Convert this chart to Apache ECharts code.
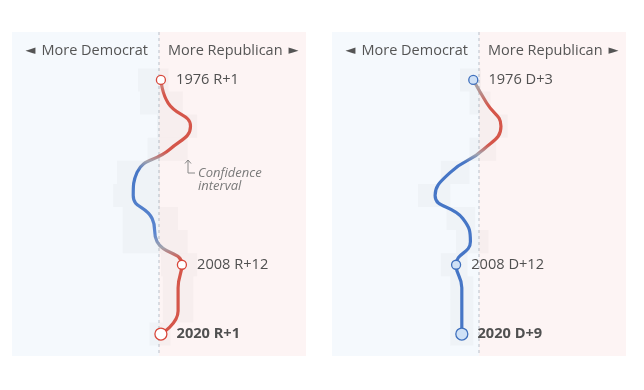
<!DOCTYPE html>
<html>
<head>
<meta charset="utf-8">
<script src="https://cdn.jsdelivr.net/npm/echarts@6/dist/echarts.min.js"></script>
<style>html,body{margin:0;padding:0;background:#fff}#c{width:644px;height:390px}</style>
</head>
<body>
<div id="c"></div>
<script>
// ---- data ----
const years = [1976, 1980, 1984, 1988, 1992, 1996, 2000, 2004, 2008, 2012, 2016, 2020];
const leftValues  = [1, 4.8, 16.5, 5.7, -11.5, -13.5, -3.6, -1, 12, 10, 10, 1];
const rightValues = [-3, 4, 11.5, 2.5, -15, -23, -8.5, -4.5, -12, -9, -9, -9];
const leftCiLow   = [-11, -10, -1, -6, -22, -24, -19, -19, 1, 2, 2, -5];
const leftCiHigh  = [5, 12.5, 20, 15, 0.5, 0.5, 10, 15, 20, 18, 18, 6];
const rightCiLow  = [-10, -5, 0, -5, -20, -32, -17, -12, -20, -15, -15, -15];
const rightCiHigh = [1, 6, 15, 9, -5, -15, -2, 5, -6, -3, -3, -3];
const markedYears = [1976, 2008, 2020];
const sideLabels = ['\u25C4 More Democrat', 'More Republican \u25BA'];
const ciNote = ['Confidence', 'interval'];
const leftColorStops = [[1976, '#c9a09c'], [1979, '#d5564a'], [1988.6, '#d5564a'], [1990.2, '#a3a3ad'], [1991.8, '#4676c6'], [2002.5, '#5b86cf'], [2004.9, '#a3a3ad'], [2006.8, '#d5564a'], [2020, '#d5564a']];
const rightColorStops = [[1976, '#a6a6a8'], [1977.8, '#ae9c9c'], [1981, '#d5564a'], [1987.4, '#d5564a'], [1989, '#a3a3ad'], [1990.4, '#4676c6'], [2020, '#4676c6']];

const RED = '#d8473b', BLUE = '#3f70bd';
const FONT = '"Open Sans"';
const Y_MIN = 1967.7, Y_MAX = 2023.8, X_MIN = -77, X_MAX = 77;

const chart = echarts.init(document.getElementById('c'));

function panel(idx, values, ciLow, ciHigh, stops, dotStroke, dotFill) {
  const grad = new echarts.graphic.LinearGradient(0, 0, 0, 1,
    stops.map(s => ({ offset: (s[0] - years[0]) / (years[years.length - 1] - years[0]), color: s[1] })));
  const ci = years.map((y, i) => [y, ciLow[i], ciHigh[i]]);
  const marks = markedYears.map(y => {
    const v = values[years.indexOf(y)];
    const last = y === years[years.length - 1];
    const txt = y + ' ' + (v >= 0 ? 'R' : 'D') + '+' + Math.round(Math.abs(v));
    return {
      value: [v, y, txt],
      symbolSize: last ? 12 : 9,
      label: { fontWeight: last ? 'bold' : 'normal', distance: last ? 9 : 10 }
    };
  });
  return [
    {
      type: 'line', xAxisIndex: idx, yAxisIndex: idx, z: 1, silent: true,
      data: [[0, Y_MIN], [0, Y_MAX]], symbol: 'none',
      lineStyle: { color: '#b9c0ca', width: 1, type: [3, 3] },
      markArea: {
        silent: true,
        data: [
          [{ xAxis: X_MIN, itemStyle: { color: '#f5f9fd' } }, { xAxis: 0 }],
          [{ xAxis: 0, itemStyle: { color: '#fdf4f4' } }, { xAxis: X_MAX }]
        ]
      }
    },
    {
      type: 'custom', xAxisIndex: idx, yAxisIndex: idx, z: 2, silent: true,
      data: ci, encode: { x: [1, 2], y: 0 },
      renderItem: function (params, api) {
        const p0 = api.coord([api.value(1), api.value(0) - 2]);
        const p1 = api.coord([api.value(2), api.value(0) + 2]);
        return { type: 'rect', shape: { x: p0[0], y: p0[1], width: p1[0] - p0[0], height: p1[1] - p0[1] },
          style: { fill: 'rgba(60,60,60,0.03)' } };
      }
    },
    {
      type: 'line', xAxisIndex: idx, yAxisIndex: idx, z: 3, silent: true,
      data: years.map((y, i) => [values[i], y]), symbol: 'none', smooth: 0.5,
      lineStyle: { width: 3.2, color: grad, cap: 'round' }
    },
    {
      type: 'scatter', xAxisIndex: idx, yAxisIndex: idx, z: 4, silent: true,
      data: marks, symbol: 'circle',
      itemStyle: { color: dotFill, borderColor: dotStroke, borderWidth: 1.3, opacity: 1 },
      label: { show: true, position: 'right', formatter: p => p.value[2], color: '#505050', fontSize: 14.6, fontFamily: FONT }
    }
  ];
}

const grids = [{ left: 12, top: 32, width: 294, height: 324 }, { left: 332, top: 32, width: 294, height: 324 }];

const triRich = {
  triL: { fontFamily: '"DejaVu Sans"', fontSize: 13, fill: '#555', padding: [0, 6, 1, 0] },
  triR: { fontFamily: '"DejaVu Sans"', fontSize: 13, fill: '#555', padding: [0, 0, 1, 6] },
  t: { fontFamily: FONT, fontSize: 14.5, fill: '#555' }
};
function richLabel(s) {
  const parts = s.split(' ');
  const isTri = w => /[\u25C4\u25BA]/.test(w);
  if (isTri(parts[0])) return '{triL|' + parts[0] + '}{t|' + parts.slice(1).join(' ') + '}';
  return '{t|' + parts.slice(0, -1).join(' ') + '}{triR|' + parts[parts.length - 1] + '}';
}
function headerTexts(cx) {
  return [
    { type: 'text', z: 100, x: cx - 11, y: 51, style: { text: richLabel(sideLabels[0]), rich: triRich, align: 'right', verticalAlign: 'middle', fill: '#555', font: '14.5px ' + FONT } },
    { type: 'text', z: 100, x: cx + 9, y: 51, style: { text: richLabel(sideLabels[1]), rich: triRich, align: 'left', verticalAlign: 'middle', fill: '#555', font: '14.5px ' + FONT } }
  ];
}

chart.setOption({
  animation: false,
  grid: grids,
  xAxis: [0, 1].map(i => ({ type: 'value', gridIndex: i, min: X_MIN, max: X_MAX, show: false })),
  yAxis: [0, 1].map(i => ({ type: 'value', gridIndex: i, min: Y_MIN, max: Y_MAX, inverse: true, show: false })),
  series: [].concat(
    panel(0, leftValues, leftCiLow, leftCiHigh, leftColorStops, RED, '#ffffff'),
    panel(1, rightValues, rightCiLow, rightCiHigh, rightColorStops, BLUE, '#cfe1f6')
  ),
  graphic: [].concat(
    headerTexts(159), headerTexts(479),
    [
      { type: 'polyline', z: 100, shape: { points: [[188, 160], [188, 173], [195, 173]] }, style: { stroke: '#888', lineWidth: 1, fill: null } },
      { type: 'polyline', z: 100, shape: { points: [[185, 163.5], [188, 160], [191, 163.5]] }, style: { stroke: '#888', lineWidth: 1, fill: null } },
      { type: 'text', z: 100, x: 198, y: 173, style: { text: ciNote[0], verticalAlign: 'middle', fill: '#7a7a7a', font: 'italic 13px ' + FONT } },
      { type: 'text', z: 100, x: 198, y: 186, style: { text: ciNote[1], verticalAlign: 'middle', fill: '#7a7a7a', font: 'italic 13px ' + FONT } }
    ]
  )
});
</script>
</body>
</html>
